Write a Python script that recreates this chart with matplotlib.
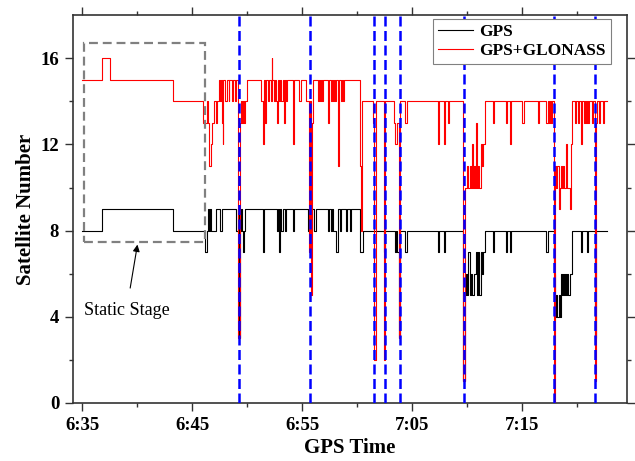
import matplotlib
matplotlib.use("Agg")
import matplotlib.pyplot as plt
from matplotlib.patches import Rectangle

plt.rcParams["font.family"] = ["Liberation Serif", "DejaVu Serif"]

# time in minutes after 6:35, steps change at each entry
glo_t = [0.0, 1.8, 2.5, 8.2, 11.0, 11.3, 11.4, 11.5, 11.55, 11.65, 11.8, 12.0, 12.15, 12.25,
         12.4, 12.5, 12.6, 12.7, 12.75, 12.8, 13.0, 13.1, 13.3, 13.35, 13.6, 13.7, 13.9, 14.0,
         14.15, 14.3, 14.4, 14.5, 14.6, 14.7, 14.8, 15.0, 16.2, 16.4, 16.5, 16.6, 16.7, 16.9,
         17.0, 17.15, 17.2, 17.25, 17.4, 17.5, 17.6, 17.7, 17.8, 17.9, 18.0, 18.1, 18.2, 18.3,
         18.4, 18.5, 18.6, 19.15, 19.25, 19.7, 19.9, 20.3, 20.6, 20.7, 20.8, 20.9, 21.0, 21.4,
         21.5, 21.6, 21.7, 21.8, 21.9, 22.3, 22.4, 22.6, 22.7, 22.8, 22.9, 23.0, 23.1, 23.25,
         23.35, 23.5, 23.6, 23.7, 23.8, 25.2, 25.25, 25.35, 25.4, 25.45, 26.4, 26.55, 26.65,
         27.45, 27.55, 28.3, 28.4, 28.6, 28.8, 28.9, 29.3, 29.5, 32.3, 32.4, 32.9, 33.0, 33.2,
         33.3, 34.65, 34.8, 35.0, 35.1, 35.2, 35.3, 35.4, 35.5, 35.6, 35.7, 35.8, 35.9, 36.0,
         36.1, 36.2, 36.3, 36.4, 36.65, 37.3, 37.4, 38.5, 38.6, 38.9, 39.0, 40.0, 40.2, 41.4,
         41.5, 42.2, 42.3, 42.4, 42.5, 42.6, 42.7, 42.85, 43.0, 43.1, 43.2, 43.3, 43.4, 43.5,
         43.6, 43.7, 43.8, 44.0, 44.1, 44.3, 44.4, 44.5, 44.8, 44.9, 45.1, 45.2, 45.3, 45.4,
         45.6, 45.7, 45.8, 45.9, 46.0, 46.1, 46.3, 46.4, 46.6, 46.7, 46.8, 47.0, 47.1, 47.3,
         47.4, 47.7]
glo_n = [15, 16, 15, 14, 13, 14, 13, 12, 11, 12, 13, 14, 13, 14,
         15, 14, 15, 13, 12, 15, 14, 15, 14, 15, 14, 15, 14, 15,
         3, 13, 14, 13, 14, 13, 14, 15, 14, 12, 15, 13, 15, 14,
         15, 14, 16, 15, 14, 15, 14, 13, 15, 14, 15, 14, 15, 13,
         15, 14, 15, 12, 15, 14, 15, 14, 7, 14, 5, 13, 15, 14,
         15, 14, 15, 14, 15, 13, 15, 14, 15, 14, 15, 14, 15, 11,
         15, 14, 15, 14, 15, 12, 11, 8, 12, 14, 13, 2, 14,
         2, 14, 13, 12, 13, 3, 14, 13, 14, 12, 14, 12, 14, 13,
         14, 1, 10, 11, 10, 11, 10, 12, 10, 11, 10, 13, 10, 11,
         10, 12, 11, 12, 14, 13, 14, 13, 14, 12, 14, 13, 14, 13,
         14, 13, 14, 13, 14, 13, 14, 0, 11, 10, 11, 9, 10, 11,
         10, 11, 10, 12, 10, 9, 12, 14, 13, 14, 13, 14, 12, 14,
         13, 14, 13, 14, 13, 14, 13, 14, 1, 13, 14, 13, 14, 13,
         14, 14]

gps_t = [0.0, 1.8, 8.2, 11.1, 11.3, 11.4, 11.5, 11.6, 11.7, 12.1, 12.55, 12.65, 14.0, 14.1,
         14.2, 14.3, 14.4, 14.5, 14.6, 14.7, 14.8, 16.4, 16.5, 17.7, 17.8, 17.9, 18.0, 18.1,
         18.2, 18.4, 18.5, 19.15, 19.25, 20.5, 20.6, 20.7, 20.85, 21.1, 21.2, 22.3, 22.45,
         22.6, 22.7, 22.8, 23.1, 23.2, 23.45, 23.55, 24.0, 24.1, 24.3, 24.4, 25.2, 25.5, 27.45,
         27.55, 28.4, 28.5, 28.6, 28.75, 28.9, 29.3, 29.55, 32.3, 32.4, 32.9, 33.0, 34.65,
         34.8, 34.9, 35.0, 35.1, 35.2, 35.3, 35.4, 35.6, 35.8, 35.85, 36.0, 36.1, 36.2, 36.3,
         36.45, 36.65, 37.3, 37.4, 38.5, 38.6, 38.9, 39.0, 42.2, 42.35, 42.9, 43.0, 43.1, 43.2,
         43.3, 43.4, 43.55, 43.6, 43.7, 43.8, 43.9, 44.0, 44.1, 44.2, 44.3, 44.55, 45.3, 45.4,
         45.9, 46.0, 46.6, 46.7, 47.7]
gps_n = [8, 9, 8, 7, 8, 9, 8, 9, 8, 9, 8, 9, 8, 9,
         3, 8, 9, 8, 7, 8, 9, 7, 9, 8, 9, 7, 9, 8,
         9, 8, 9, 8, 9, 8, 9, 8, 9, 8, 9, 8, 9,
         8, 9, 8, 7, 9, 8, 9, 8, 9, 8, 9, 7, 8, 7,
         8, 7, 8, 7, 3, 8, 7, 8, 7, 8, 7, 8, 1,
         5, 6, 5, 7, 5, 6, 5, 6, 7, 5, 7, 5, 7, 6,
         7, 8, 7, 8, 7, 8, 7, 8, 7, 8, 6, 4, 5, 4,
         5, 4, 6, 5, 6, 5, 6, 5, 6, 5, 6, 8, 7, 8,
         7, 8, 3, 8, 8]

event_t = [14.2, 20.7, 26.55, 27.5, 28.85, 34.7, 42.85, 46.65]

tick_pos = [0, 10, 20, 30, 40]
tick_labels = ["6:35", "6:45", "6:55", "7:05", "7:15"]

fig = plt.figure(figsize=(6.35, 4.61), dpi=100)
ax = fig.add_axes([0.115, 0.126, 0.872, 0.841])

ax.step(gps_t, gps_n, where="post", color="black", lw=0.8, label="GPS", zorder=2)
ax.step(glo_t, glo_n, where="post", color="red", lw=0.8, label="GPS+GLONASS", zorder=3)

for t in event_t:
    ax.axvline(t, color="#0000ff", lw=1.8, linestyle=(0, (4, 1.8)), zorder=4)

ax.add_patch(Rectangle((0.1, 7.45), 11.0, 9.25, fill=False, edgecolor="#808080",
                       lw=1.6, linestyle=(0, (4, 2.2)), zorder=5))
ax.annotate("Static Stage", xy=(5.0, 7.35), xytext=(4.0, 4.3),
            fontsize=13, ha="center", va="center",
            arrowprops=dict(arrowstyle="-|>", color="black", lw=0.8, mutation_scale=10,
                            shrinkA=8, shrinkB=0))

ax.set_xlim(-0.86, 49.5)
ax.set_ylim(0, 18)
ax.set_xticks(tick_pos)
ax.set_xticklabels(tick_labels)
ax.set_xticks([5, 15, 25, 35, 45], minor=True)
ax.set_yticks([0, 4, 8, 12, 16])
ax.set_yticks([2, 6, 10, 14], minor=True)
ax.tick_params(which="both", direction="out", top=True, right=True, color="#333333", width=1.0)
ax.tick_params(which="major", length=6, labelsize=13.5, pad=4)
ax.tick_params(which="minor", length=3)
for lab in ax.get_xticklabels() + ax.get_yticklabels():
    lab.set_fontweight("bold")
for sp in ax.spines.values():
    sp.set_color("#333333")
    sp.set_linewidth(1.2)

ax.set_xlabel("GPS Time", fontsize=15, fontweight="bold", labelpad=3)
ax.set_ylabel("Satellite Number", fontsize=15, fontweight="bold", labelpad=3)

leg = ax.legend(loc="upper right", bbox_to_anchor=(0.972, 0.99), borderaxespad=0,
                fancybox=False, framealpha=1, edgecolor="#808080", handlelength=2.0,
                handletextpad=0.4, prop={"weight": "bold", "size": 12.5},
                borderpad=0.3, labelspacing=0.15)
leg.get_frame().set_linewidth(0.8)

fig.savefig("out.png", dpi=100)
